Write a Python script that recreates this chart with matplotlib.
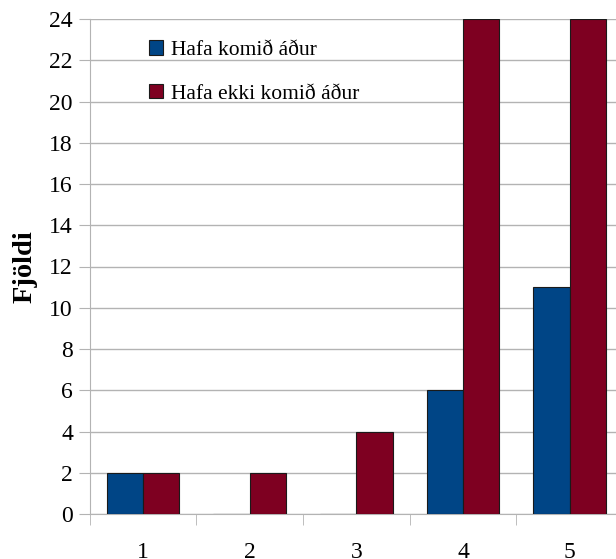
import matplotlib
matplotlib.use("Agg")
import matplotlib.pyplot as plt
import numpy as np

categories = ["1", "2", "3", "4", "5"]
komid = [2, 0, 0, 6, 11]
ekki_komid = [2, 2, 4, 24, 24]
series_labels = ["Hafa komið áður", "Hafa ekki komið áður"]
yticks = list(range(0, 25, 2))

plt.rcParams['font.family'] = ['Liberation Serif', 'DejaVu Serif']

fig = plt.figure(figsize=(6.16, 5.59), dpi=100)
ax = fig.add_axes([89.6/616, 1-514/559, (623-89.6)/616, (514-19)/559])

x = np.arange(len(categories))
w = 0.34
blue = "#004586"
red = "#7e0021"
ax.bar(x - w/2, komid, w, color=blue, edgecolor="#1a1a1a", linewidth=0.8, label=series_labels[0], zorder=3)
ax.bar(x + w/2, ekki_komid, w, color=red, edgecolor="#1a1a1a", linewidth=0.8, label=series_labels[1], zorder=3)

ax.set_xlim(-0.5, len(categories) - 0.5)
ax.set_ylim(0, 24)
ax.set_yticks(yticks)
ax.set_yticklabels([str(v) for v in yticks], fontsize=17)
ax.set_xticks(x)
ax.set_xticklabels(categories, fontsize=17)
ax.set_xticks(np.arange(-0.5, len(categories), 1), minor=True)
ax.tick_params(axis='x', which='major', length=0, pad=20)
ax.tick_params(axis='x', which='minor', length=8, color="#b3b3b3", direction='out')
ax.tick_params(axis='y', length=8, color="#b3b3b3", direction='out', pad=4)
ax.yaxis.grid(True, color="#b3b3b3", linewidth=1, zorder=0)
ax.set_axisbelow(True)
for s in ["top", "right"]:
    ax.spines[s].set_visible(False)
for s in ["left", "bottom"]:
    ax.spines[s].set_color("#b3b3b3")

ax.set_ylabel("Fjöldi", fontsize=20.5, fontweight="bold")
ax.yaxis.set_label_coords(-0.098, 0.5)

leg = ax.legend(loc="upper left", bbox_to_anchor=(0.111, 0.957), frameon=False,
                borderpad=0, borderaxespad=0,
                fontsize=15.5, handlelength=0.66, handleheight=0.66, handletextpad=0.35,
                labelspacing=1.1)

fig.savefig("out.png", dpi=100)
